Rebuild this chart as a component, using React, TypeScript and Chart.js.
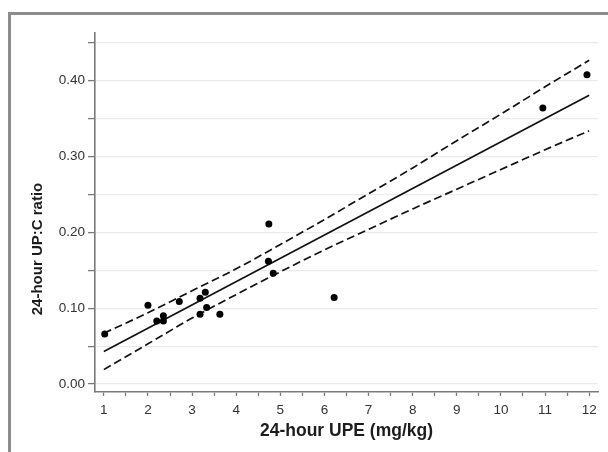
import React, { useEffect, useRef } from "react";
import { Chart, registerables } from "chart.js";

Chart.register(...registerables);

// 24-hour UPE (mg/kg) for each dog
const upeValues = [1.02, 2.0, 2.2, 2.35, 2.35, 2.71, 3.18, 3.3, 3.18, 3.33, 3.63, 4.73, 4.84, 4.74, 6.22, 10.95, 11.95];
// 24-hour UP:C ratio for each dog
const upcValues = [0.066, 0.104, 0.083, 0.09, 0.083, 0.109, 0.113, 0.121, 0.092, 0.101, 0.092, 0.162, 0.146, 0.211, 0.114, 0.364, 0.408];

// regression line end points
const fitX = [1, 12];
const fitY = [0.043, 0.381];

// 95% confidence band
const bandX = [1, 2, 3, 4, 5, 6, 7, 8, 9, 10, 11, 12];
const bandUpper = [0.067, 0.094, 0.123, 0.152, 0.184, 0.217, 0.251, 0.285, 0.321, 0.356, 0.392, 0.427];
const bandLower = [0.019, 0.053, 0.087, 0.118, 0.148, 0.177, 0.204, 0.231, 0.257, 0.283, 0.309, 0.334];

const xTitle = "24-hour UPE (mg/kg)";
const yTitle = "24-hour UP:C ratio";

const FONT = '"Liberation Sans", Arial, Helvetica, sans-serif';

const titlePlugin = {
  id: "axisTitles",
  afterDraw(chart: any) {
    const { ctx, chartArea } = chart;
    ctx.save();
    ctx.fillStyle = "#1c1c1c";
    ctx.textAlign = "center";
    ctx.textBaseline = "alphabetic";
    ctx.font = `bold 17.5px ${FONT}`;
    ctx.fillText(xTitle, (chartArea.left + chartArea.right) / 2, 436);
    ctx.translate(42, 249);
    ctx.rotate(-Math.PI / 2);
    ctx.font = `bold 15px ${FONT}`;
    ctx.fillText(yTitle, 0, 0);
    ctx.restore();
  },
};

export default function App() {
  const canvasRef = useRef<HTMLCanvasElement | null>(null);

  useEffect(() => {
    if (!canvasRef.current) return;
    const points = upeValues.map((x, i) => ({ x, y: upcValues[i] }));
    const fit = fitX.map((x, i) => ({ x, y: fitY[i] }));
    const upper = bandX.map((x, i) => ({ x, y: bandUpper[i] }));
    const lower = bandX.map((x, i) => ({ x, y: bandLower[i] }));

    const chart = new Chart(canvasRef.current, {
      type: "scatter",
      data: {
        datasets: [
          {
            data: points,
            backgroundColor: "#000",
            borderWidth: 0,
            pointRadius: 3.5,
          },
          {
            data: fit,
            showLine: true,
            borderColor: "#111",
            borderWidth: 1.7,
            pointRadius: 0,
          },
          {
            data: upper,
            showLine: true,
            borderColor: "#111",
            borderWidth: 1.7,
            borderDash: [8, 4],
            pointRadius: 0,
            cubicInterpolationMode: "monotone",
          },
          {
            data: lower,
            showLine: true,
            borderColor: "#111",
            borderWidth: 1.7,
            borderDash: [8, 4],
            pointRadius: 0,
            cubicInterpolationMode: "monotone",
          },
        ],
      },
      options: {
        responsive: false,
        animation: false,
        layout: { padding: { left: 0, right: 10, top: 33, bottom: 0 } },
        plugins: {
          legend: { display: false },
          tooltip: { enabled: false },
        },
        scales: {
          x: {
            type: "linear",
            min: 0.8,
            max: 12.2,
            afterFit: (s: any) => {
              s.height = 60;
            },
            ticks: {
              stepSize: 0.5,
              includeBounds: false,
              autoSkip: false,
              maxRotation: 0,
              padding: 6,
              color: "#333",
              font: { size: 13.5, family: FONT },
              callback: (v: any) => (Math.abs(v - Math.round(v)) < 1e-6 ? String(Math.round(v)) : ""),
            },
            grid: {
              drawOnChartArea: false,
              tickColor: "#7a7a7a",
              tickLength: 4,
              tickWidth: 1.3,
            },
            border: { color: "#7a7a7a", width: 1.6 },
          },
          y: {
            type: "linear",
            min: -0.0105,
            max: 0.463,
            afterFit: (s: any) => {
              s.width = 95;
            },
            ticks: {
              stepSize: 0.05,
              includeBounds: false,
              padding: 3,
              color: "#333",
              font: { size: 13.5, family: FONT },
              callback: (v: any) => {
                const t = v * 10;
                return Math.abs(t - Math.round(t)) < 1e-6 ? Number(v).toFixed(2) : "";
              },
            },
            grid: {
              color: "#ebebeb",
              lineWidth: 1.2,
              tickColor: "#7a7a7a",
              tickLength: 7,
              tickWidth: 1.3,
            },
            border: { color: "#7a7a7a", width: 1.6 },
          },
        },
      },
      plugins: [titlePlugin],
    });
    return () => chart.destroy();
  }, []);

  return (
    <div style={{ position: "fixed", left: 0, top: 0, width: 608, height: 452, background: "#fff", overflow: "hidden" }}>
      <div
        style={{
          position: "absolute",
          left: 8,
          top: 12,
          width: 660,
          height: 500,
          border: "3px solid #8c8c8c",
          boxSizing: "border-box",
        }}
      />
      <canvas ref={canvasRef} width={608} height={452} style={{ position: "absolute", left: 0, top: 0, width: 608, height: 452 }} />
    </div>
  );
}
